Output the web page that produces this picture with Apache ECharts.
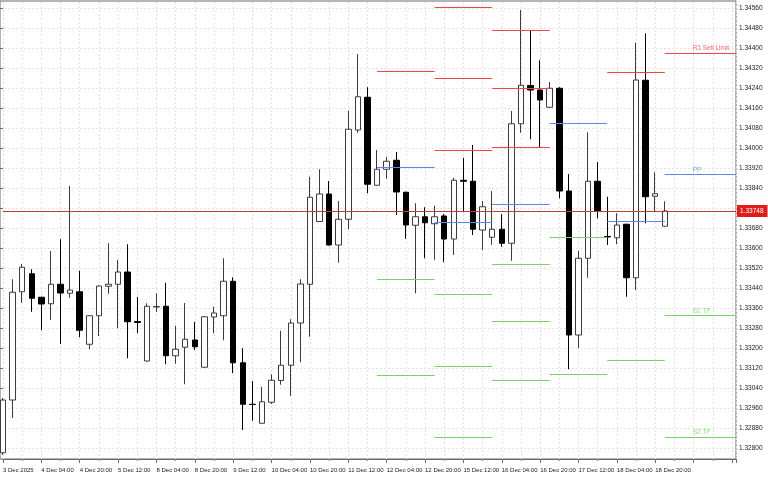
<!DOCTYPE html>
<html><head><meta charset="utf-8">
<script src="https://cdn.jsdelivr.net/npm/echarts@6/dist/echarts.min.js"></script>
<style>html,body{margin:0;padding:0;background:#fff}#c{width:768px;height:480px}</style>
</head><body><div id="c"></div>
<script>
// ---- data (H4 bars, 3 Dec 12:00 .. 19 Dec 00:00) ----
const openP = [1.32781,1.32992,1.33425,1.33497,1.33403,1.33377,1.33455,1.33419,1.33425,1.33215,
1.33329,1.33447,1.33455,1.33504,1.33306,1.33148,1.33364,1.33367,1.33169,1.33203,
1.33232,1.33123,1.33324,1.33329,1.33467,1.33141,1.32975,1.32899,1.32983,1.33070,
1.33131,1.33300,1.33455,1.33706,1.33816,1.33612,1.33715,1.34072,1.34203,1.33851,
1.33915,1.33951,1.33823,1.33691,1.33725,1.33697,1.33728,1.33636,1.33871,1.33867,
1.33672,1.33643,1.33675,1.33619,1.34097,1.34250,1.34232,1.34163,1.34239,1.33828,
1.33252,1.33559,1.33867,1.33646,1.33641,1.33695,1.33481,1.34271,1.33807,1.33687];
const closeP = [1.32992,1.33423,1.33523,1.33399,1.33376,1.33455,1.33420,1.33432,1.33271,1.33329,
1.33448,1.33455,1.33504,1.33305,1.33302,1.33367,1.33366,1.33169,1.33195,1.33235,
1.33205,1.33325,1.33340,1.33467,1.33141,1.32975,1.32974,1.32985,1.33071,1.33131,
1.33300,1.33456,1.33803,1.33816,1.33612,1.33715,1.34075,1.34205,1.33855,1.33915,
1.33947,1.33824,1.33692,1.33725,1.33701,1.33725,1.33636,1.33871,1.33867,1.33675,
1.33765,1.33675,1.33619,1.34097,1.34251,1.34232,1.34192,1.34239,1.33828,1.33252,
1.33559,1.33867,1.33748,1.33644,1.33692,1.33481,1.34272,1.33805,1.33817,1.33748];
const lowP = [1.32772,1.32920,1.33381,1.33345,1.33272,1.33312,1.33216,1.33401,1.33243,1.33195,
1.33248,1.33417,1.33279,1.33159,1.33259,1.33146,1.33344,1.33135,1.33137,1.33055,
1.33192,1.33121,1.33259,1.33231,1.33099,1.32872,1.32909,1.32897,1.32976,1.33053,
1.33009,1.33143,1.33245,1.33704,1.33610,1.33541,1.33675,1.34061,1.33819,1.33849,
1.33877,1.33732,1.33637,1.33419,1.33559,1.33553,1.33543,1.33572,1.33743,1.33652,
1.33592,1.33613,1.33605,1.33549,1.34061,1.34035,1.34004,1.34161,1.33799,1.33115,
1.33199,1.33481,1.33719,1.33612,1.33615,1.33405,1.33432,1.33699,1.33748,1.33685];
const highP = [1.33000,1.33475,1.33536,1.33515,1.33405,1.33588,1.33635,1.33848,1.33509,1.33331,
1.33450,1.33619,1.33552,1.33615,1.33404,1.33379,1.33419,1.33461,1.33289,1.33380,
1.33305,1.33327,1.33365,1.33559,1.33483,1.33199,1.33068,1.33045,1.33095,1.33269,
1.33315,1.33475,1.33885,1.33915,1.33868,1.33788,1.34149,1.34376,1.34243,1.33992,
1.33964,1.33984,1.33825,1.33779,1.33763,1.33769,1.33736,1.33881,1.33961,1.34012,
1.33788,1.33828,1.33735,1.34148,1.34552,1.34471,1.34351,1.34264,1.34243,1.33896,
1.33589,1.34063,1.33944,1.33805,1.33739,1.33697,1.34421,1.34459,1.33903,1.33787];

// x tick labels (one every 4 bars)
const tickLabels = ['3 Dec 2025','4 Dec 04:00','4 Dec 20:00','5 Dec 12:00','8 Dec 04:00','8 Dec 20:00',
  '9 Dec 12:00','10 Dec 04:00','10 Dec 20:00','11 Dec 12:00','12 Dec 04:00','12 Dec 20:00',
  '15 Dec 12:00','16 Dec 04:00','16 Dec 20:00','17 Dec 12:00','18 Dec 04:00','18 Dec 20:00'];

// daily pivot levels: 12,15,16,17,18,19 Dec (first bar index of each day)
const dayStart = [39, 45, 51, 57, 63, 69];
const R3 = [null, 1.34564, 1.34471, null, null, null];
const R2 = [null, 1.34278, 1.34240, null, null, null];
const R1 = [1.34308, 1.33991, 1.34004, null, 1.34303, 1.34381];
const PP = [1.33924, 1.33704, 1.33775, 1.34097, 1.33708, 1.33895];
const S1 = [1.33476, 1.33416, 1.33536, 1.33643, 1.33151, 1.33329];
const S2 = [1.33092, 1.33128, 1.33307, 1.33097, null, 1.32844];
const S3 = [null, 1.32842, 1.33071, null, null, null];
const levelTags = ['R1 Sell Limit', 'PP', 'S1 TP', 'S2 TP'];
const currentPrice = 1.33748;

// ---- view ----
const xMax = 76.42;            // right edge of plot in bar units
const yMin = 1.32756, yMax = 1.34584;
const tagX = 71.9;
const RED = '#f24545', BLUE = '#5a8ae6', GREEN = '#76d366';
const FONT = 'Liberation Sans';

const candleData = openP.map((o, i) => [i, o, closeP[i], lowP[i], highP[i]]);

const segs = [];
function addLevel(arr, color) {
  arr.forEach((v, d) => {
    if (v == null) return;
    const s = dayStart[d];
    const e = d + 1 < dayStart.length ? dayStart[d + 1] : xMax;
    segs.push({ coords: [[s, v], [e, v]], lineStyle: { color: color } });
  });
}
addLevel(R3, RED); addLevel(R2, RED); addLevel(R1, RED);
addLevel(PP, BLUE);
addLevel(S1, GREEN); addLevel(S2, GREEN); addLevel(S3, GREEN);

const last = dayStart.length - 1;
const tagVals = [R1[last], PP[last], S1[last], S2[last]];
const tagCols = [RED, BLUE, GREEN, GREEN];
const tagData = levelTags.map((t, k) => ({
  value: [tagX, tagVals[k], t],
  label: { color: tagCols[k] }
}));

const gridLine = { color: '#e2e2e2', type: [2, 2], width: 1 };

const option = {
  animation: false,
  backgroundColor: '#ffffff',
  textStyle: { fontFamily: FONT },
  grid: [
    { left: 2.4, right: 32, top: 2, bottom: 21 },
    { left: 0, right: 32, top: 8, bottom: 32 },
    { left: 0, right: 32, top: 1, bottom: 21, show: true, borderColor: '#6a6a6a', borderWidth: 1, backgroundColor: 'transparent' }
  ],
  xAxis: [
    {
      gridIndex: 0, type: 'value', min: 0, max: xMax, interval: 4,
      axisLine: { show: true, lineStyle: { color: '#6a6a6a' } },
      axisTick: { show: true, length: 4, lineStyle: { color: '#6a6a6a' } },
      minorTick: { show: true, splitNumber: 2, length: 2, lineStyle: { color: '#8a8a8a' } },
      splitLine: { show: true, lineStyle: gridLine },
      minorSplitLine: { show: true, lineStyle: gridLine },
      axisLabel: {
        show: true, align: 'left', margin: 8, fontSize: 6, color: '#1a1a1a', fontFamily: FONT,
        showMaxLabel: false,
        formatter: v => (v % 4 === 0 && tickLabels[v / 4]) ? tickLabels[v / 4] : ''
      }
    },
    { gridIndex: 1, type: 'value', min: 0, max: 1, show: false },
    { gridIndex: 2, type: 'value', min: 0, max: 1, show: false }
  ],
  yAxis: [
    { gridIndex: 0, type: 'value', min: yMin, max: yMax, show: false, position: 'right' },
    {
      gridIndex: 1, type: 'value', min: 1.328, max: 1.3456, interval: 0.0008, position: 'right',
      axisLine: { show: false },
      axisTick: { show: true, length: 3, lineStyle: { color: '#6a6a6a' } },
      axisLabel: { fontSize: 6.5, margin: 3, color: '#1a1a1a', fontFamily: FONT, formatter: v => v.toFixed(5) },
      splitLine: { show: true, lineStyle: gridLine }
    },
    { gridIndex: 2, type: 'value', min: 0, max: 1, show: false }
  ],
  series: [
    {
      type: 'candlestick', xAxisIndex: 0, yAxisIndex: 0,
      data: candleData, encode: { x: 0, y: [1, 2, 3, 4] },
      barWidth: 6, clip: false, z: 3,
      itemStyle: { color: '#ffffff', color0: '#000000', borderColor: '#3c3c3c', borderColor0: '#000000', borderWidth: 1 },
      markLine: {
        silent: true, symbol: 'none', animation: false, precision: 5,
        lineStyle: { color: '#c23a3a', width: 1, type: 'solid' },
        label: {
          show: true, position: 'end', distance: 1, formatter: currentPrice.toFixed(5),
          backgroundColor: '#e01b1b', color: '#ffffff', padding: [3, 4, 2, 3], fontSize: 6.5, fontFamily: FONT
        },
        data: [{ yAxis: currentPrice }]
      }
    },
    {
      type: 'lines', coordinateSystem: 'cartesian2d', xAxisIndex: 0, yAxisIndex: 0,
      data: segs, z: 4, silent: true,
      lineStyle: { width: 1, opacity: 1 }
    },
    {
      type: 'scatter', xAxisIndex: 0, yAxisIndex: 0, data: tagData, symbolSize: 0, z: 5, silent: true,
      label: {
        show: true, position: [0, -1], align: 'left', verticalAlign: 'bottom',
        fontSize: 6.5, fontFamily: FONT, formatter: p => p.value[2]
      }
    }
  ]
};
const chart = echarts.init(document.getElementById('c'), null, { renderer: 'canvas' });
chart.setOption(option);
</script></body></html>
